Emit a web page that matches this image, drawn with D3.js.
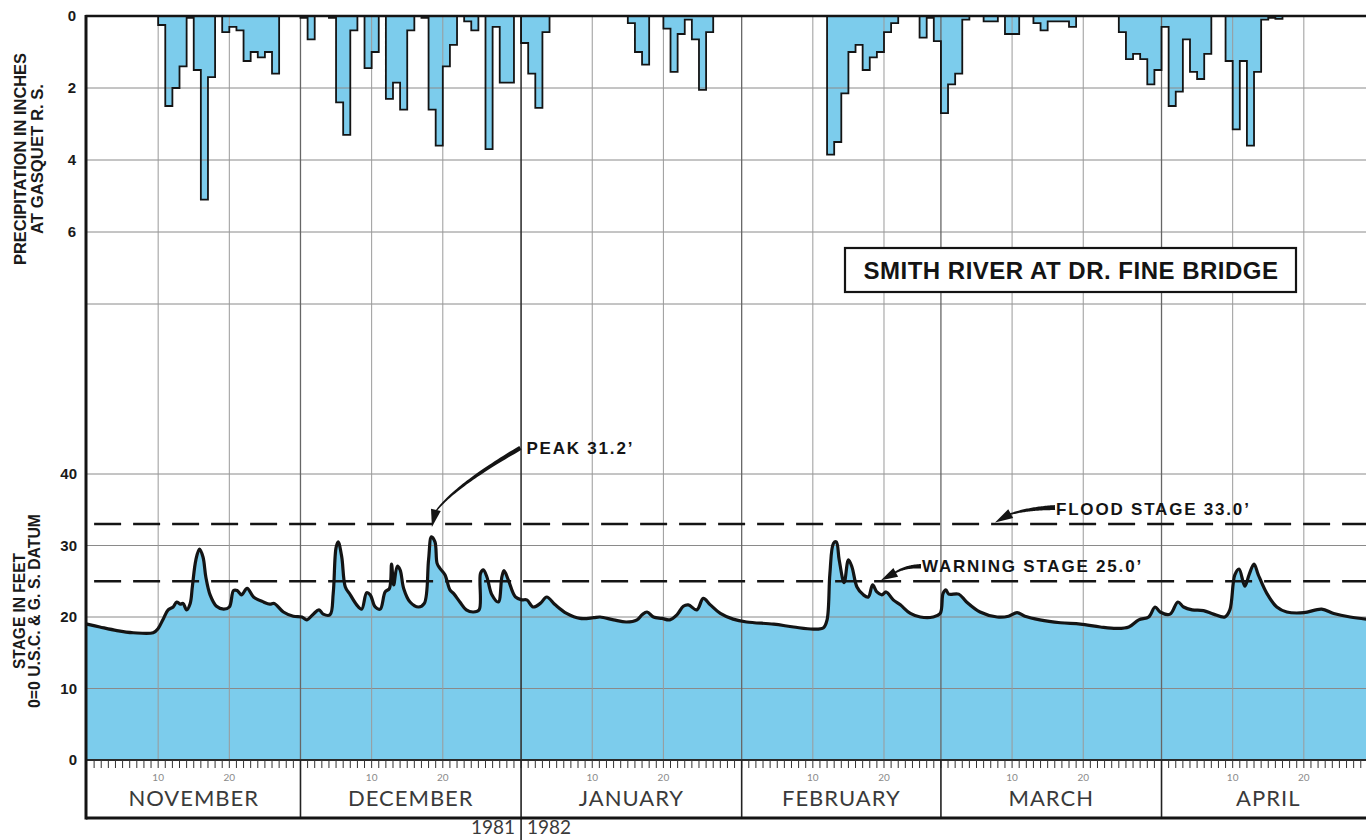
<!DOCTYPE html>
<html>
<head>
<meta charset="utf-8">
<script src="https://cdn.jsdelivr.net/npm/d3@7"></script>
<style>
  html, body { margin: 0; padding: 0; background: #ffffff; }
  svg { display: block; }
  text { font-family: "Liberation Sans", Arial, Helvetica, sans-serif; }
</style>
</head>
<body>
<svg id="chart" width="1366" height="840"></svg>
<script>
// ---------------------------------------------------------------
// Daily precipitation at Gasquet R.S., inches (only days with rain)
// ---------------------------------------------------------------
const precipDates = [
  "1981-11-11","1981-11-12","1981-11-13","1981-11-14","1981-11-15","1981-11-16","1981-11-17","1981-11-18",
  "1981-11-20","1981-11-21","1981-11-22","1981-11-23","1981-11-24","1981-11-25","1981-11-26","1981-11-27",
  "1981-12-01","1981-12-02","1981-12-05","1981-12-06","1981-12-07","1981-12-08","1981-12-10","1981-12-11",
  "1981-12-13","1981-12-14","1981-12-15","1981-12-16","1981-12-18","1981-12-19","1981-12-20","1981-12-21",
  "1981-12-22","1981-12-24","1981-12-25","1981-12-27","1981-12-28","1981-12-29","1981-12-30",
  "1982-01-01","1982-01-02","1982-01-03","1982-01-04","1982-01-16","1982-01-17","1982-01-18",
  "1982-01-21","1982-01-22","1982-01-23","1982-01-24","1982-01-25","1982-01-26","1982-01-27",
  "1982-02-13","1982-02-14","1982-02-15","1982-02-16","1982-02-17","1982-02-18","1982-02-19","1982-02-20",
  "1982-02-21","1982-02-22","1982-02-26","1982-02-27","1982-02-28",
  "1982-03-01","1982-03-02","1982-03-03","1982-03-04","1982-03-07","1982-03-08","1982-03-10","1982-03-11",
  "1982-03-14","1982-03-15","1982-03-16","1982-03-17","1982-03-18","1982-03-19",
  "1982-03-26","1982-03-27","1982-03-28","1982-03-29","1982-03-30","1982-03-31",
  "1982-04-01","1982-04-02","1982-04-03","1982-04-04","1982-04-05","1982-04-06","1982-04-07",
  "1982-04-10","1982-04-11","1982-04-12","1982-04-13","1982-04-14","1982-04-15","1982-04-16","1982-04-17"
];
const precipInches = [
  0.25, 2.5, 2.0, 1.4, 0.05, 1.5, 5.1, 1.7,
  0.45, 0.3, 0.4, 1.25, 1.0, 1.15, 1.0, 1.6,
  0.05, 0.65, 0.05, 2.4, 3.3, 0.4, 1.45, 1.0,
  2.3, 1.85, 2.6, 0.4, 0.05, 2.6, 3.6, 1.4,
  0.8, 0.15, 0.4, 3.7, 0.3, 1.85, 1.85,
  0.75, 1.6, 2.55, 0.45, 0.2, 1.0, 1.35,
  0.35, 1.55, 0.5, 0.1, 0.65, 2.05, 0.45,
  3.85, 3.5, 2.15, 1.0, 0.8, 1.5, 1.15, 1.0,
  0.45, 0.2, 0.6, 0.05, 0.7,
  2.7, 1.9, 1.6, 0.1, 0.15, 0.15, 0.5, 0.5,
  0.2, 0.4, 0.15, 0.15, 0.15, 0.3,
  0.45, 1.2, 1.05, 1.2, 1.9, 1.5,
  0.3, 2.5, 2.1, 0.65, 1.55, 1.75, 1.05,
  1.25, 3.15, 1.25, 3.6, 1.55, 0.1, 0.05, 0.08
];

// ---------------------------------------------------------------
// Smith River stage at Dr. Fine Bridge: days after 1 Nov 1981, feet
// ---------------------------------------------------------------
const stageDays = [
  0, 1.8, 4.2, 6.5, 9.3, 10.0, 10.7, 11.4, 12.1, 12.6, 13.1, 13.5, 14.0, 14.5, 14.8, 15.3, 15.8, 16.3, 16.7,
  17.3, 18.2, 19.2, 20.0, 20.6, 21.1, 21.7, 22.5, 23.4, 24.8, 25.7, 26.3, 27.6, 29.0, 30.2, 30.9, 31.8, 32.6,
  33.2, 34.15, 34.6, 35.0, 35.3, 35.8, 36.3, 37.0, 37.9, 38.6, 39.3, 39.8, 40.5, 41.2, 41.9, 42.5, 42.8, 43.1,
  43.6, 44.0, 44.5, 45.4, 46.6, 47.4, 48.0, 48.4, 48.9, 49.2, 49.6, 50.3, 51.0, 51.5, 52.4, 53.3, 54.3, 55.1,
  55.3, 55.7, 56.2, 56.9, 57.8, 58.3, 58.6, 59.2, 60.2, 61.1, 61.8, 62.7, 63.7, 64.6, 65.8, 67.4, 69.3, 71.2,
  72.1, 74.0, 75.8, 77.3, 78.0, 78.7, 79.6, 80.8, 81.9, 82.9, 83.8, 84.5, 85.7, 86.6, 87.6, 89.0, 90.8, 92.7,
  96.5, 99.3, 102.1, 103.5, 104.0, 104.4, 104.9, 105.3, 105.7, 106.4, 107.0, 107.5, 108.2, 109.1, 109.8,
  110.4, 111.0, 111.7, 112.3, 113.3, 114.3, 115.7, 117.1, 118.9, 119.9, 120.3, 120.7, 121.1, 122.5, 123.6,
  125.5, 127.9, 129.5, 130.7, 131.8, 133.9, 136.8, 139.6, 142.4, 144.7, 146.4, 147.8, 149.2, 150.1, 150.8,
  152.2, 153.3, 154.1, 155.3, 156.9, 158.3, 159.9, 160.6, 161.3, 161.9, 162.7, 163.3, 164.0, 164.6, 165.8,
  167.2, 168.6, 171.0, 173.5, 175.2, 177.5, 179.8, 181.0
];
const stageFeet = [
  19.0, 18.6, 18.1, 17.8, 17.8, 18.4, 19.7, 21.0, 21.4, 22.1, 21.8, 21.9, 21.0, 21.9, 24.2, 28.0, 29.5, 28.4, 25.6,
  23.1, 21.5, 21.1, 21.4, 23.7, 23.7, 23.1, 24.0, 22.8, 22.1, 21.8, 21.9, 20.7, 20.1, 20.0, 19.6, 20.4, 21.0,
  20.4, 20.3, 23.3, 29.7, 30.5, 28.4, 24.2, 23.1, 21.7, 21.1, 23.4, 23.1, 21.4, 21.1, 23.5, 24.0, 27.4, 24.5,
  27.1, 26.6, 24.0, 22.1, 21.4, 21.9, 28.0, 31.2, 30.5, 27.5, 26.8, 25.9, 23.8, 23.3, 22.1, 21.0, 20.7, 21.0,
  26.1, 26.6, 25.6, 23.1, 22.1, 25.6, 26.5, 25.2, 22.8, 22.4, 22.4, 21.4, 21.9, 22.8, 21.7, 20.5, 19.8, 19.9,
  20.0, 19.6, 19.3, 19.6, 20.3, 20.7, 20.0, 19.8, 19.6, 20.3, 21.5, 21.7, 21.0, 22.6, 21.7, 20.5, 19.7, 19.3,
  19.0, 18.6, 18.3, 18.5, 19.6, 26.1, 30.3, 30.5, 28.0, 24.8, 28.0, 27.0, 24.2, 23.1, 22.8,
  24.5, 23.5, 23.1, 23.5, 22.4, 21.7, 20.5, 20.0, 20.0, 20.5, 23.3, 23.8, 23.2, 23.2, 22.1,
  20.7, 20.0, 20.1, 20.6, 20.1, 19.6, 19.2, 19.0, 18.6, 18.4, 18.6, 19.6, 20.0, 21.4, 20.7,
  20.4, 22.1, 21.4, 21.0, 20.9, 20.4, 20.0, 21.0, 25.9, 26.7, 24.3, 25.9, 27.4, 25.9, 23.3,
  21.4, 20.7, 20.6, 21.1, 20.5, 20.0, 19.7, 19.6
];

// axis labels and reference levels
const monthNames = ["NOVEMBER", "DECEMBER", "JANUARY", "FEBRUARY", "MARCH", "APRIL"];
const dayMarks = [10, 20];
const precipTicks = [0, 2, 4, 6];
const precipGrid = [2, 4, 6, 8];
const stageTicks = [0, 10, 20, 30, 40];
const floodStage = 33.0;
const warningStage = 25.0;
const peakStage = 31.2;
const peakDay = 48.4;
const yearLabels = ["1981", "1982"];

// ---------------------------------------------------------------
const svg = d3.select("#chart");
const BLUE = "#7cccec";
const INK = "#141414";

const t0 = new Date(Date.UTC(1981, 10, 1));
const t1 = new Date(Date.UTC(1982, 4, 1));
const dayToDate = d => new Date(t0.getTime() + d * 864e5);

const x = d3.scaleUtc().domain([t0, t1]).range([87, 1375]);
const yP = d3.scaleLinear().domain([0, 8]).range([16, 304]);
const yS = d3.scaleLinear().domain([0, 40]).range([760, 474]);

const plotLeft = x(t0), plotRight = 1366;
const axisBottom = 818;

// precipitation as a continuous daily step series
const fmt = d3.utcFormat("%Y-%m-%d");
const rain = new Map(precipDates.map((d, i) => [d, precipInches[i]]));
const allDays = d3.utcDay.range(t0, t1);
const precipSeries = allDays.map(d => ({ date: d, v: rain.get(fmt(d)) || 0 }));
precipSeries.push({ date: t1, v: 0 });

const stageSeries = stageDays.map((d, i) => ({ date: dayToDate(d), v: stageFeet[i] }));
const curve = d3.curveCatmullRom.alpha(0.5);

// stage fill
svg.append("path")
  .datum(stageSeries)
  .attr("fill", BLUE)
  .attr("d", d3.area().x(d => x(d.date)).y0(yS(0)).y1(d => yS(d.v)).curve(curve));

// precipitation fill
svg.append("path")
  .datum(precipSeries)
  .attr("fill", BLUE)
  .attr("d", d3.area().x(d => x(d.date)).y0(yP(0)).y1(d => yP(d.v)).curve(d3.curveStepAfter));

// grid
const grid = svg.append("g");
const monthStarts = d3.utcMonth.range(t0, t1);
const tenDays = [];
monthStarts.forEach(m => dayMarks.forEach(k => tenDays.push({ date: d3.utcDay.offset(m, k), label: String(k) })));

grid.selectAll(".hgP").data(precipGrid).join("line")
  .attr("x1", plotLeft).attr("x2", plotRight)
  .attr("y1", d => yP(d)).attr("y2", d => yP(d))
  .attr("stroke", "#8a8a8a").attr("stroke-width", 1);
grid.selectAll(".hgS").data(stageTicks.filter(v => v > 0)).join("line")
  .attr("x1", plotLeft).attr("x2", plotRight)
  .attr("y1", d => yS(d)).attr("y2", d => yS(d))
  .attr("stroke", "#8a8a8a").attr("stroke-width", 1);
grid.selectAll(".vg").data(tenDays).join("line")
  .attr("x1", d => x(d.date)).attr("x2", d => x(d.date))
  .attr("y1", yP(0)).attr("y2", yS(0))
  .attr("stroke", "#9a9a9a").attr("stroke-width", 1);
grid.selectAll(".vm").data(monthStarts.slice(1)).join("line")
  .attr("x1", d => x(d)).attr("x2", d => x(d))
  .attr("y1", yP(0)).attr("y2", yS(0))
  .attr("stroke", d => d.getUTCMonth() === 0 ? "#333" : "#666")
  .attr("stroke-width", d => d.getUTCMonth() === 0 ? 1.6 : 1.3);

// flood and warning stage lines
svg.selectAll(".stageRef").data([floodStage, warningStage]).join("line")
  .attr("x1", x(dayToDate(1))).attr("x2", plotRight)
  .attr("y1", d => yS(d)).attr("y2", d => yS(d))
  .attr("stroke", INK).attr("stroke-width", 2.4)
  .attr("stroke-dasharray", "27,12");

// precipitation outline
svg.append("path")
  .datum(precipSeries)
  .attr("fill", "none").attr("stroke", INK).attr("stroke-width", 1.8)
  .attr("stroke-linejoin", "miter")
  .attr("d", d3.line().x(d => x(d.date)).y(d => yP(d.v)).curve(d3.curveStepAfter));

// stage hydrograph
svg.append("path")
  .datum(stageSeries)
  .attr("fill", "none").attr("stroke", INK).attr("stroke-width", 3.2)
  .attr("stroke-linejoin", "round").attr("stroke-linecap", "round")
  .attr("d", d3.line().x(d => x(d.date)).y(d => yS(d.v)).curve(curve));

// ---------------- time axis box ----------------
const axisG = svg.append("g");
axisG.append("rect")
  .attr("x", plotLeft).attr("y", yS(0)).attr("width", plotRight - plotLeft).attr("height", axisBottom - yS(0))
  .attr("fill", "#fff");
axisG.append("line")
  .attr("x1", plotLeft).attr("x2", plotRight).attr("y1", yS(0)).attr("y2", yS(0))
  .attr("stroke", "#2a2a2a").attr("stroke-width", 2);
axisG.selectAll(".dtick").data(allDays.slice(1)).join("line")
  .attr("x1", d => x(d)).attr("x2", d => x(d))
  .attr("y1", yS(0)).attr("y2", yS(0) + 8)
  .attr("stroke", "#333").attr("stroke-width", 1);
axisG.selectAll(".mline").data(monthStarts.slice(1)).join("line")
  .attr("x1", d => x(d)).attr("x2", d => x(d))
  .attr("y1", yS(0)).attr("y2", d => d.getUTCMonth() === 0 ? 840 : axisBottom)
  .attr("stroke", "#222").attr("stroke-width", 1.6);
axisG.selectAll(".dlab").data(tenDays).join("text")
  .attr("x", d => x(d.date)).attr("y", 781)
  .attr("text-anchor", "middle")
  .style("font-family", "Lato, 'Open Sans', sans-serif")
  .style("font-size", "10px").attr("fill", "#8a8a8a")
  .text(d => d.label);
axisG.selectAll(".mlab").data(monthStarts).join("text")
  .attr("x", (d, i) => (x(d) + x(d3.utcMonth.offset(d, 1))) / 2)
  .attr("y", 806)
  .attr("text-anchor", "middle")
  .style("font-family", "Lato, 'Open Sans', sans-serif")
  .style("font-size", "22px").style("letter-spacing", "1px")
  .attr("fill", "#3a3a3a")
  .text((d, i) => monthNames[i]);
axisG.append("line")
  .attr("x1", plotLeft - 1).attr("x2", plotRight).attr("y1", axisBottom).attr("y2", axisBottom)
  .attr("stroke", INK).attr("stroke-width", 3);

// year split under the axis
const jan1 = new Date(Date.UTC(1982, 0, 1));
svg.selectAll(".yr").data(yearLabels).join("text")
  .attr("x", (d, i) => x(jan1) + (i === 0 ? -6 : 6))
  .attr("y", 834)
  .attr("text-anchor", (d, i) => i === 0 ? "end" : "start")
  .style("font-family", "Lato, 'Open Sans', sans-serif")
  .style("font-size", "19px").attr("fill", "#3a3a3a")
  .text(d => d);

// ---------------- frame ----------------
svg.append("line")
  .attr("x1", plotLeft - 1.5).attr("x2", plotRight).attr("y1", yP(0)).attr("y2", yP(0))
  .attr("stroke", INK).attr("stroke-width", 2.5);
svg.append("line")
  .attr("x1", plotLeft - 1).attr("x2", plotLeft - 1).attr("y1", yP(0) - 1).attr("y2", axisBottom + 1.5)
  .attr("stroke", INK).attr("stroke-width", 3);

// ---------------- value labels ----------------
const tickFont = g => g.attr("text-anchor", "end").style("font-weight", "bold").style("font-size", "15px").attr("fill", "#1a1a1a");
svg.selectAll(".pt").data(precipTicks).join("text")
  .attr("x", 76).attr("y", d => yP(d)).attr("dy", "0.36em")
  .call(tickFont).text(d => d);
svg.selectAll(".st").data(stageTicks).join("text")
  .attr("x", 77).attr("y", d => yS(d)).attr("dy", "0.36em")
  .call(tickFont).text(d => d);

// axis titles (two rotated lines each, fitted to a set length)
const vTitle = (lines, cy, xs, lens) => lines.forEach((s, i) =>
  svg.append("text")
    .attr("transform", `translate(${xs[i]},${cy}) rotate(-90)`)
    .attr("text-anchor", "middle")
    .attr("textLength", lens[i]).attr("lengthAdjust", "spacingAndGlyphs")
    .style("font-weight", "bold").style("font-size", "16px").attr("fill", "#1a1a1a")
    .text(s));
vTitle(["PRECIPITATION IN INCHES", "AT GASQUET R. S."], 159, [26, 43], [212, 150]);
vTitle(["STAGE IN FEET", "0=0 U.S.C. & G. S. DATUM"], 611, [25, 40], [116, 194]);

// ---------------- title box ----------------
svg.append("rect")
  .attr("x", 845).attr("y", 248).attr("width", 451).attr("height", 44)
  .attr("fill", "#fff").attr("stroke", INK).attr("stroke-width", 2.2);
svg.append("text")
  .attr("x", 1071).attr("y", 278.5)
  .attr("text-anchor", "middle")
  .style("font-weight", "bold").style("font-size", "24px").style("letter-spacing", "0.5px")
  .attr("fill", INK)
  .text("SMITH RIVER AT DR. FINE BRIDGE");

// ---------------- annotations ----------------
// tapered curved arrow: quadratic shaft from s (thick) to e (thin) with a head to tip
function arrow(s, c, e, tip, w0, w1, headW) {
  const n = 40, L = [], R = [];
  for (let i = 0; i <= n; i++) {
    const t = i / n, u = 1 - t;
    const px = u * u * s[0] + 2 * u * t * c[0] + t * t * e[0];
    const py = u * u * s[1] + 2 * u * t * c[1] + t * t * e[1];
    let dx = 2 * u * (c[0] - s[0]) + 2 * t * (e[0] - c[0]);
    let dy = 2 * u * (c[1] - s[1]) + 2 * t * (e[1] - c[1]);
    const len = Math.hypot(dx, dy) || 1; dx /= len; dy /= len;
    const w = (w0 + (w1 - w0) * t) / 2;
    L.push([px - dy * w, py + dx * w]);
    R.push([px + dy * w, py - dx * w]);
  }
  const shaft = [...L, ...R.reverse()];
  svg.append("path").attr("d", "M" + shaft.join("L") + "Z").attr("fill", INK);
  let hx = tip[0] - e[0], hy = tip[1] - e[1];
  const hl = Math.hypot(hx, hy); hx /= hl; hy /= hl;
  const b = [e[0] - hx * 2, e[1] - hy * 2];
  const head = [tip, [b[0] - hy * headW / 2, b[1] + hx * headW / 2], [b[0] + hy * headW / 2, b[1] - hx * headW / 2]];
  svg.append("path").attr("d", "M" + head.join("L") + "Z").attr("fill", INK);
}
const noteText = (tx, ty, s) => svg.append("text")
  .attr("x", tx).attr("y", ty)
  .style("font-weight", "bold").style("font-size", "17px").style("letter-spacing", "1.8px")
  .attr("fill", INK).text(s);

// peak
{
  const px = x(dayToDate(peakDay)), py = yS(peakStage);
  const tip = [px + 0.5, py - 10];
  arrow([px + 89, py - 89], [px + 22, py - 50], [px + 4, py - 25], tip, 4.5, 1.4, 10);
  noteText(px + 95, py - 83, "PEAK 31.2\u2019");
}
// flood stage
{
  const fy = yS(floodStage);
  const tip = [995, fy - 1.5];
  arrow([tip[0] + 60, tip[1] - 15], [tip[0] + 32, tip[1] - 14], [tip[0] + 14, tip[1] - 8], tip, 5, 1.6, 10);
  noteText(tip[0] + 61, tip[1] - 8, "FLOOD STAGE 33.0\u2019");
}
// warning stage
{
  const wy = yS(warningStage);
  const tip = [881, wy - 1];
  arrow([tip[0] + 40, tip[1] - 14], [tip[0] + 24, tip[1] - 14], [tip[0] + 13, tip[1] - 7], tip, 4.5, 1.6, 10);
  noteText(tip[0] + 41, tip[1] - 8, "WARNING STAGE 25.0\u2019");
}
</script>
</body>
</html>
